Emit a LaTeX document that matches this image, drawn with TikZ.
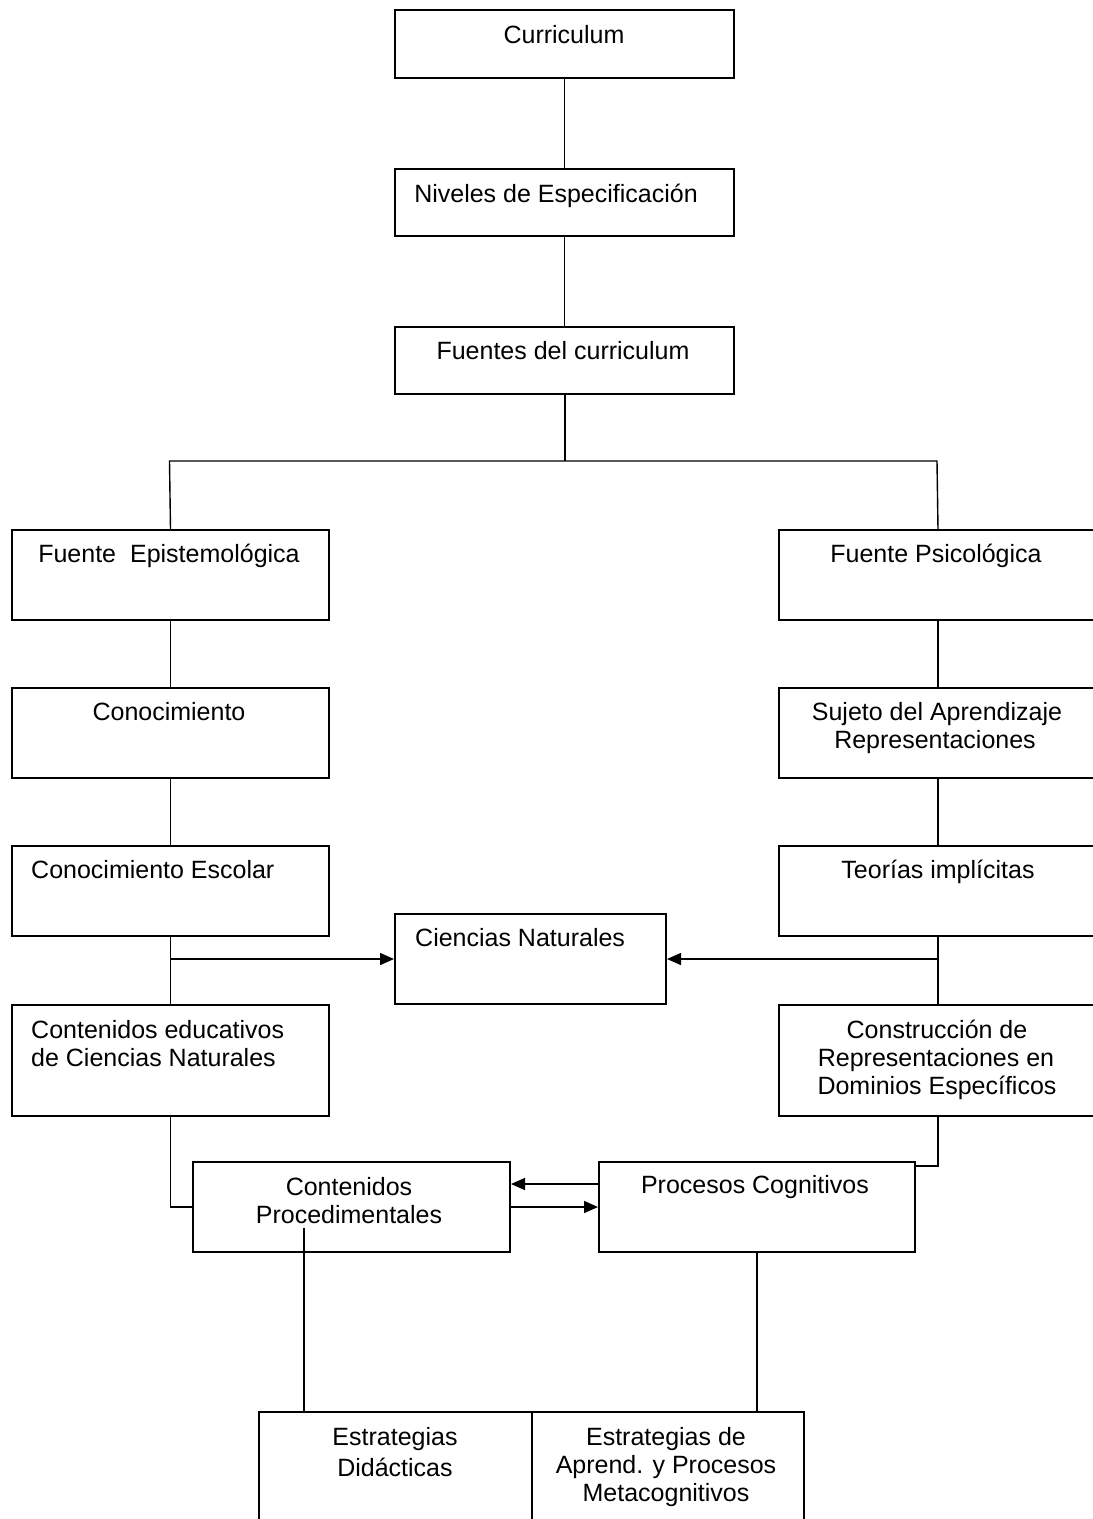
\documentclass[tikz,border=0pt]{standalone}
\usepackage{fontspec}
\setmainfont{Liberation Sans}
\usetikzlibrary{arrows.meta,calc}
\begin{document}
\begin{tikzpicture}[x=1pt,y=-1pt,
  bx/.style={draw=black, line width=2pt, inner sep=0pt, anchor=north west},
  tx/.style={anchor=base, inner sep=0pt, font=\fontsize{25}{28}\selectfont},
  txl/.style={anchor=base west, inner sep=0pt, font=\fontsize{25}{28}\selectfont},
  ln/.style={draw=black, line width=1.4pt},
  arr/.style={ln, -{Triangle[length=14pt,width=12pt]}}]
\useasboundingbox[fill=white] (0,0) rectangle (1093,1519);
% boxes
\node[bx, minimum width=339pt, minimum height=68pt] (cur) at (394,9) {};
\node[bx, minimum width=339pt, minimum height=67pt] (niv) at (394,168) {};
\node[bx, minimum width=339pt, minimum height=67pt] (fue) at (394,326) {};
\node[bx, minimum width=317pt, minimum height=90pt] (fep) at (11,529) {};
\node[bx, minimum width=318pt, minimum height=90pt] (fps) at (778,529) {};
\node[bx, minimum width=317pt, minimum height=90pt] (con) at (11,687) {};
\node[bx, minimum width=318pt, minimum height=90pt] (suj) at (778,687) {};
\node[bx, minimum width=317pt, minimum height=90pt] (ces) at (11,845) {};
\node[bx, minimum width=318pt, minimum height=90pt] (teo) at (778,845) {};
\node[bx, minimum width=271pt, minimum height=90pt] (cn) at (394,913) {};
\node[bx, minimum width=317pt, minimum height=111pt] (ced) at (11,1004) {};
\node[bx, minimum width=318pt, minimum height=111pt] (cdr) at (778,1004) {};
\node[bx, minimum width=317pt, minimum height=90pt] (cpr) at (192,1161) {};
\node[bx, minimum width=316pt, minimum height=90pt] (pco) at (598,1161) {};
\node[bx, minimum width=273pt, minimum height=125pt] (edi) at (258,1411) {};
\node[bx, minimum width=272pt, minimum height=125pt] (eap) at (531,1411) {};
% texts
\node[tx] (t1) at (564,43) {Curriculum};
\node[tx] (t2) at (556,202) {Niveles de Especificación};
\node[tx] (t3) at (563,359) {Fuentes del curriculum};
\node[tx] (t4) at (169,562) {Fuente\hspace{0.56em}Epistemológica};
\node[tx] (t5) at (936,562) {Fuente Psicológica};
\node[tx] (t6) at (169,720) {Conocimiento};
\node[tx] (t7a) at (937,720) {Sujeto del Aprendizaje};
\node[tx] (t7b) at (935,748) {Representaciones};
\node[txl] (t8) at (31,878) {Conocimiento Escolar};
\node[tx] (t9) at (938,878) {Teorías implícitas};
\node[txl] (t10) at (415,946) {Ciencias Naturales};
\node[txl] (t11a) at (31,1038) {Contenidos educativos};
\node[txl] (t11b) at (31,1066) {de Ciencias Naturales};
\node[tx] (t12a) at (937,1038) {Construcción de};
\node[tx] (t12b) at (936,1066) {Representaciones en};
\node[tx] (t12c) at (937,1094) {Dominios Específicos};
\node[tx] (t13a) at (349,1195) {Contenidos};
\node[tx] (t13b) at (349,1223) {Procedimentales};
\node[tx] (t14) at (755,1193) {Procesos Cognitivos};
\node[tx] (t15a) at (395,1445) {Estrategias};
\node[tx] (t15b) at (395,1476) {Didácticas};
\node[tx] (t16a) at (666,1445) {Estrategias de};
\node[tx] (t16b) at (666,1473) {Aprend. y Procesos};
\node[tx] (t16c) at (666,1501) {Metacognitivos};
% connectors
\draw[ln] (cur.south) -- (niv.north);
\draw[ln] (niv.south) -- (fue.north);
\coordinate (brL) at (169.5,461);
\coordinate (brR) at (937,461);
\draw[ln, line width=2pt] (fue.south) -- (fue.south |- brL);
\draw[ln] (fep.north) -- (brL) -- (brR) -- (fps.north);
\draw[ln] (fep.south) -- (con.north);
\draw[ln] (con.south) -- (ces.north);
\draw[ln] (ces.south) -- (ced.north);
\draw[ln] (fps.south) -- (suj.north);
\draw[ln] (suj.south) -- (teo.north);
\draw[ln] (teo.south) -- (cdr.north);
\draw[arr] (ces.south |- cn.west) -- (cn.west);
\draw[arr] (teo.south |- cn.east) -- (cn.east);
\draw[ln] (ced.south) |- (cpr.west);
\draw[ln] (cdr.south) |- ([yshift=-5pt]pco.north east);
\draw[arr] ([yshift=23pt]pco.west) -- ([yshift=23pt]cpr.east);
\draw[arr] (cpr.east) -- (pco.west);
\coordinate (cpin) at (304,1228);
\draw[ln] (cpin) -- (cpin |- edi.north);
\draw[ln] (pco.south) -- (pco.south |- eap.north);
\end{tikzpicture}
\end{document}
